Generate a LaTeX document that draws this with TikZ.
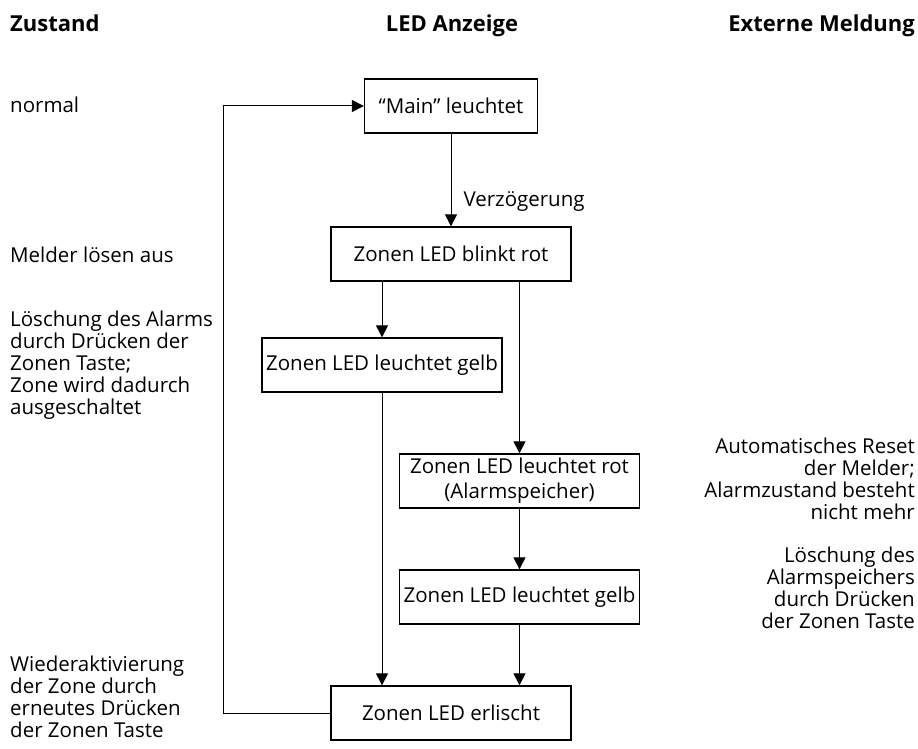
\documentclass[tikz,border=0pt]{standalone}
\usepackage{fontspec}
\setmainfont{Open Sans}
\usetikzlibrary{arrows.meta}

\begin{document}
\begin{tikzpicture}[x=1pt,y=-1pt,font=\fontsize{20.5}{22}\selectfont]
% height of each box
\def\bh{54}
% node style definition
\tikzstyle{box} = [
	draw, line width=1.3pt, rectangle, inner sep=0pt, align=center,
	minimum height=\bh, minimum width=240 ];
\tikzstyle{plain} = [draw=none,fill=none,inner sep=0pt];
\tikzstyle{head} = [plain,font=\bfseries\fontsize{22}{24}\selectfont];
\tikzstyle{arr} = [line width=1pt,-{Triangle[length=12pt,width=12pt]}];
\useasboundingbox (0,0) rectangle (918,749);
% column headings
\node[head, anchor=base west] (hzust) at (10,32) {Zustand};
\node[head, anchor=base] (hled) at (452,32) {LED Anzeige};
\node[head, anchor=base east] (hext) at (915,32) {Externe Meldung};
% LED boxes
\node[box, minimum width=173] (main) at (451,106) {“Main” leuchtet};
\node[box] (blinkt) at (451,254) {Zonen LED blinkt rot};
\node[box] (gelbA) at (382,365) {Zonen LED leuchtet gelb};
\node[box] (rot) at (519.5,481) {Zonen LED leuchtet rot\\[3pt](Alarmspeicher)};
\node[box] (gelbB) at (519.5,597) {Zonen LED leuchtet gelb};
\node[box] (aus) at (451,713) {Zonen LED erlischt};
% state texts (left)
\node[plain, anchor=base west] (normal) at (10,113) {normal};
\node[plain, anchor=base west] (ausl) at (10,262) {Melder lösen aus};
\node[plain, anchor=north west, align=left] (loesch) at (10,311)
	{Löschung des Alarms\\durch Drücken der\\Zonen Taste;\\Zone wird dadurch\\ausgeschaltet};
\node[plain, anchor=north west, align=left] (wieder) at (10,656)
	{Wiederaktivierung\\der Zone durch\\erneutes Drücken\\der Zonen Taste};
% external messages (right)
\node[plain, anchor=north east, align=right] (reset) at (915,438)
	{Automatisches Reset\\der Melder;\\Alarmzustand besteht\\nicht mehr};
\node[plain, anchor=north east, align=right] (speicher) at (915,547)
	{Löschung des\\Alarmspeichers\\durch Drücken\\der Zonen Taste};
% connectors
\draw[arr] (main) -- node[plain, right=12pt, pos=0.73] (verz) {Verzögerung} (blinkt);
\draw[arr] (blinkt.south -| gelbA) -- (gelbA);
\draw[arr] (blinkt.south -| rot) -- (rot);
\draw[arr] (rot) -- (gelbB);
\draw[arr] (gelbA) -- (gelbA |- aus.north);
\draw[arr] (gelbB) -- (gelbB |- aus.north);
% back to normal state
\coordinate (back) at (223,713);
\draw[arr] (aus) -- (back) |- (main);
\end{tikzpicture}
\end{document}
